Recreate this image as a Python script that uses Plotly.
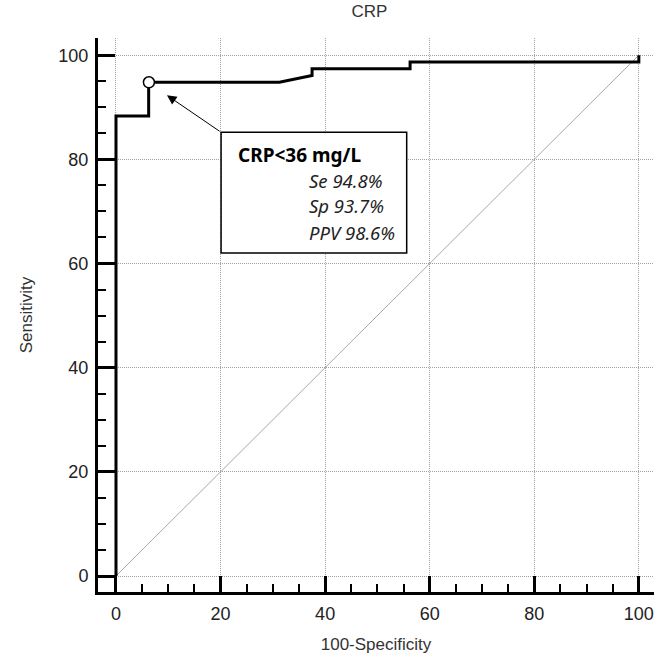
import plotly.graph_objects as go

# ROC curve data (100-Specificity, Sensitivity)
fpr = [0, 0, 6.25, 6.25, 31.25, 37.5, 37.5, 56.25, 56.25, 100, 100]
tpr = [0, 88.3, 88.3, 94.8, 94.8, 96.1, 97.4, 97.4, 98.7, 98.7, 100]
ref_x = [0, 100]
ref_y = [0, 100]
cut_x = [6.3]
cut_y = [94.8]
tick_vals = [0, 20, 40, 60, 80, 100]
tick_text = ["0", "20", "40", "60", "80", "100"]
box_title = "CRP<36 mg/L"
box_lines = ["Se 94.8%", "Sp 93.7%", "PPV 98.6%"]

fig = go.Figure()
fig.add_trace(go.Scatter(x=ref_x, y=ref_y, mode="lines",
                         line=dict(color="#a8a8a8", width=1), hoverinfo="skip"))
fig.add_trace(go.Scatter(x=fpr, y=tpr, mode="lines",
                         line=dict(color="black", width=3, shape="linear")))
fig.add_trace(go.Scatter(x=cut_x, y=cut_y, mode="markers",
                         marker=dict(size=11, color="white",
                                     line=dict(color="black", width=1.5))))

axis_common = dict(
    showline=True, linecolor="black", linewidth=3, mirror=False,
    ticks="inside", tickcolor="black", tickwidth=2.5,
    showgrid=True, gridcolor="#a0a0a0", gridwidth=1, griddash="1px,1px",
    zeroline=False,
    tickvals=tick_vals, ticktext=tick_text,
    tickfont=dict(family="Liberation Sans, Arial", size=18, color="#222"),
    minor=dict(dtick=5, tick0=0, ticks="inside", ticklen=8, tickwidth=2,
               tickcolor="black", showgrid=False),
)

fig.update_xaxes(range=[-3.44, 102.9], ticklen=16, ticklabelstandoff=3,
                 title=dict(text="100-Specificity", standoff=16,
                            font=dict(family="Liberation Sans, Arial", size=17, color="#333")),
                 **axis_common)
fig.update_yaxes(range=[-3.07, 103.3], ticklen=17, ticklabelstandoff=3,
                 title=dict(text="Sensitivity", standoff=22,
                            font=dict(family="Liberation Sans, Arial", size=17, color="#333")),
                 **axis_common)

# annotation box
fig.add_shape(type="rect", xref="x", yref="y", x0=20.1, x1=55.6, y0=62.0, y1=85.2,
              line=dict(color="black", width=1.5), fillcolor="white", layer="above")
fig.add_annotation(x=9.75, y=92.3, ax=20.1, ay=85.2, axref="x", ayref="y",
                   xref="x", yref="y", text="", showarrow=True,
                   arrowhead=2, arrowsize=1.9, arrowwidth=1, arrowcolor="black")
fig.add_annotation(x=22.9, y=80.8, xref="x", yref="y", xanchor="left", yanchor="middle",
                   text="<b>" + box_title.replace("<", "&lt;") + "</b>", showarrow=False,
                   font=dict(family="Noto Sans", size=19, color="black"))
for yv, line in zip([75.9, 71.1, 66.0], box_lines):
    fig.add_annotation(x=36.5, y=yv, xref="x", yref="y", xanchor="left", yanchor="middle",
                       text="<i>" + line + "</i>", showarrow=False,
                       font=dict(family="Noto Sans", size=18.5, color="#222"))

fig.update_layout(
    width=654, height=658,
    margin=dict(l=98, r=0, t=38, b=66),
    paper_bgcolor="white", plot_bgcolor="white",
    showlegend=False,
    title=dict(text="CRP", x=0.565, xanchor="center", y=0.992, yanchor="top",
               font=dict(family="Liberation Sans, Arial", size=17, color="#333")),
)

fig.write_html("out.html", config={"displayModeBar": False},
               post_script="document.body.style.margin='0';document.body.style.overflow='hidden';")
